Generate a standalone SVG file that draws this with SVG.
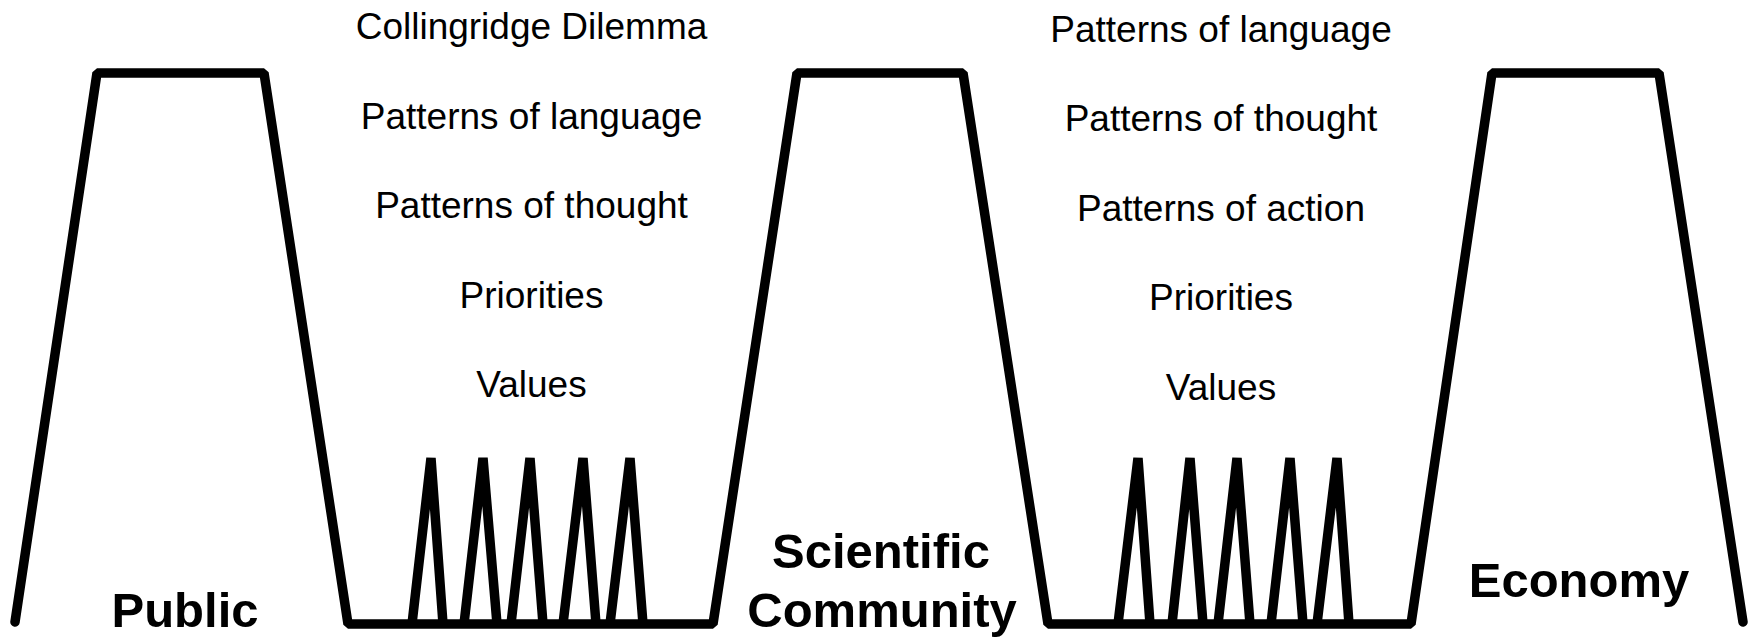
<svg xmlns="http://www.w3.org/2000/svg" width="1754" height="637" viewBox="0 0 1754 637">
<style>
.ln{fill:none;stroke:#000;stroke-width:9.5;stroke-linejoin:bevel;stroke-linecap:round}
.sp{fill:none;stroke:#000;stroke-width:9.5;stroke-linejoin:bevel;stroke-linecap:butt}
.t{font-family:"Liberation Sans",Arial,sans-serif;font-size:37px;fill:#000;text-anchor:middle}
.b{font-family:"Liberation Sans",Arial,sans-serif;font-size:49px;font-weight:bold;fill:#000;text-anchor:middle}
</style>
<rect width="1754" height="637" fill="#fff"/>
<g id="outline">
<polyline class="ln" points="15,622 97,73 264,73 348,624 713,624 797,73 963,73 1048,624 1411,624 1492,73 1659,73 1743,622"/>
</g>
<g id="spikes-left">
<polyline class="sp" points="412,624 431,458 443,624"/>
<polyline class="sp" points="464,624 483,458 497,624"/>
<polyline class="sp" points="511,624 530,458 543,624"/>
<polyline class="sp" points="563,624 583,458 596,624"/>
<polyline class="sp" points="610,624 630,458 643,624"/>
</g>
<g id="spikes-right">
<polyline class="sp" points="1118,624 1138,458 1150,624"/>
<polyline class="sp" points="1172,624 1190,458 1203,624"/>
<polyline class="sp" points="1218,624 1237,458 1250,624"/>
<polyline class="sp" points="1271,624 1290,458 1303,624"/>
<polyline class="sp" points="1317,624 1337,458 1349,624"/>
</g>
<g id="public"><text class="b" x="185" y="627">Public</text></g>
<g id="scientific-community"><text class="b" x="881" y="568">Scientific</text><text class="b" x="882" y="627">Community</text></g>
<g id="economy"><text class="b" x="1579" y="597">Economy</text></g>
<g id="left-list">
<text class="t" x="531.5" y="39">Collingridge Dilemma</text>
<text class="t" x="531.5" y="128.5">Patterns of language</text>
<text class="t" x="531.5" y="218">Patterns of thought</text>
<text class="t" x="531.5" y="307.5">Priorities</text>
<text class="t" x="531.5" y="397">Values</text>
</g>
<g id="right-list">
<text class="t" x="1221" y="41.5">Patterns of language</text>
<text class="t" x="1221" y="131">Patterns of thought</text>
<text class="t" x="1221" y="220.5">Patterns of action</text>
<text class="t" x="1221" y="310">Priorities</text>
<text class="t" x="1221" y="399.5">Values</text>
</g>
</svg>
